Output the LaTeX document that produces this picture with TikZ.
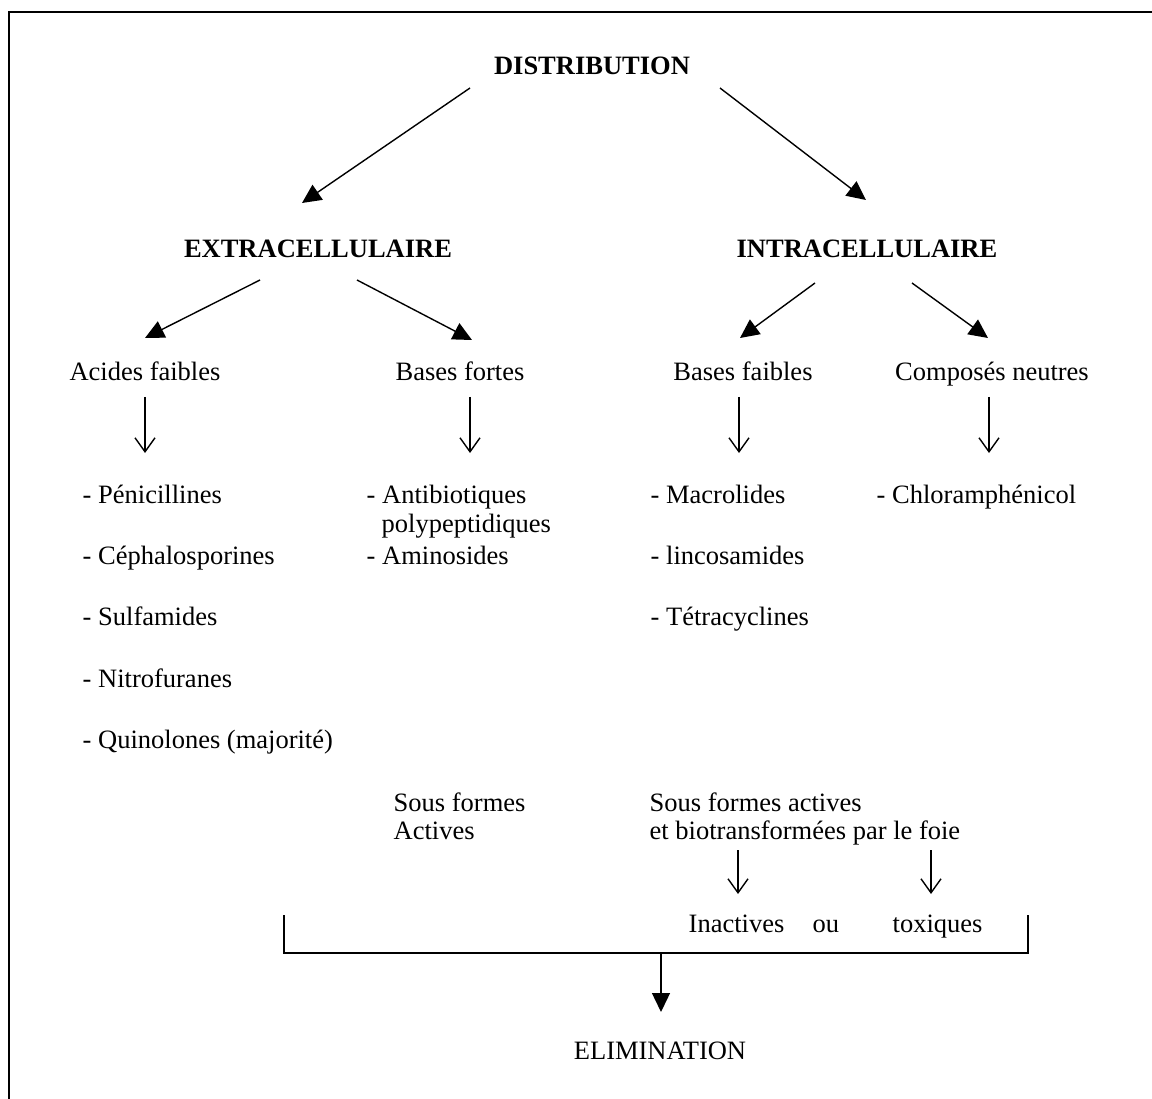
\documentclass[tikz,border=0pt]{standalone}
\usepackage{fontspec}
\setmainfont{Liberation Serif}
\usetikzlibrary{arrows.meta}

\begin{document}
\begin{tikzpicture}[x=1pt, y=-1pt, line width=1.4pt,
  every node/.style={font=\fontsize{26.5}{30}\selectfont, inner sep=0pt},
  titre/.style={font=\fontsize{26.5}{30}\selectfont\bfseries, anchor=base},
  etiq/.style={anchor=base},
  liste/.style={anchor=base west},
  plein/.style={-{Triangle[length=19pt,width=18pt]}},
  ouvert/.style={-{Straight Barb[length=14pt,width=20pt]}}]
  \useasboundingbox (0,0) rectangle (1152,1099);
  % cadre
  \draw[line width=2pt] (9,1099) -- (9,12) -- (1152,12);

  % niveaux
  \node[titre] (dist) at (592,75) {DISTRIBUTION};
  \node[titre] (extra) at (318,258) {EXTRACELLULAIRE};
  \node[titre] (intra) at (867,258) {INTRACELLULAIRE};
  \node[etiq] (acides) at (145,381) {Acides faibles};
  \node[etiq] (bfortes) at (460,381) {Bases fortes};
  \node[etiq] (bfaibles) at (743,381) {Bases faibles};
  \node[etiq] (neutres) at (992,381) {Composés neutres};

  % listes
  \node[liste] (peni) at (82,503) {- Pénicillines};
  \node[liste] (cepha) at (82,564) {- Céphalosporines};
  \node[liste] (sulfa) at (82,625) {- Sulfamides};
  \node[liste] (nitro) at (82,687) {- Nitrofuranes};
  \node[liste] (quino) at (82,748) {- Quinolones (majorité)};
  \node[liste] (antib) at (366,503) {- Antibiotiques};
  \node[liste] (polyp) at (381,532) {polypeptidiques};
  \node[liste] (amino) at (366,564) {- Aminosides};
  \node[liste] (macro) at (650,503) {- Macrolides};
  \node[liste] (linco) at (650,564) {- lincosamides};
  \node[liste] (tetra) at (650,625) {- Tétracyclines};
  \node[liste] (chloro) at (876,503) {- Chloramphénicol};

  % formes
  \node[liste] (sf1) at (393,811) {Sous formes};
  \node[liste] (sf2) at (393,839) {Actives};
  \node[liste] (sfa1) at (649,811) {Sous formes actives};
  \node[liste] (sfa2) at (649,839) {et biotransformées par le foie};
  \node[liste] (inact) at (688,932) {Inactives};
  \node[liste] (ou) at (812,932) {ou};
  \node[liste] (toxi) at (892,932) {toxiques};
  \node[etiq] (elim) at (660,1059) {ELIMINATION};

  % points d'attache
  \coordinate (dist-g) at (470,88);
  \coordinate (dist-d) at (720,88);
  \coordinate (extra-h) at (302,203);
  \coordinate (intra-h) at (866,200);
  \coordinate (extra-g) at (260,280);
  \coordinate (extra-d) at (357,280);
  \coordinate (intra-g) at (815,283);
  \coordinate (intra-d) at (912,283);
  \coordinate (acides-h) at (145,338);
  \coordinate (bfortes-h) at (472,340);
  \coordinate (bfaibles-h) at (740,338);
  \coordinate (neutres-h) at (988,338);
  \coordinate (bras) at (661,953);

  % fleches pleines
  \draw[plein] (dist-g) -- (extra-h);
  \draw[plein] (dist-d) -- (intra-h);
  \draw[plein] (extra-g) -- (acides-h);
  \draw[plein] (extra-d) -- (bfortes-h);
  \draw[plein] (intra-g) -- (bfaibles-h);
  \draw[plein] (intra-d) -- (neutres-h);

  % fleches ouvertes
  \draw[ouvert] (145,397) -- (145,453);
  \draw[ouvert] (470,397) -- (470,453);
  \draw[ouvert] (739,397) -- (739,453);
  \draw[ouvert] (989,397) -- (989,453);
  \draw[ouvert] (738,850) -- (738,894);
  \draw[ouvert] (931,850) -- (931,894);

  % accolade et elimination
  \draw (284,915) -- (284,953) -- (1028,953) -- (1028,915);
  \draw[plein] (bras) -- (661,1012);
\end{tikzpicture}
\end{document}
